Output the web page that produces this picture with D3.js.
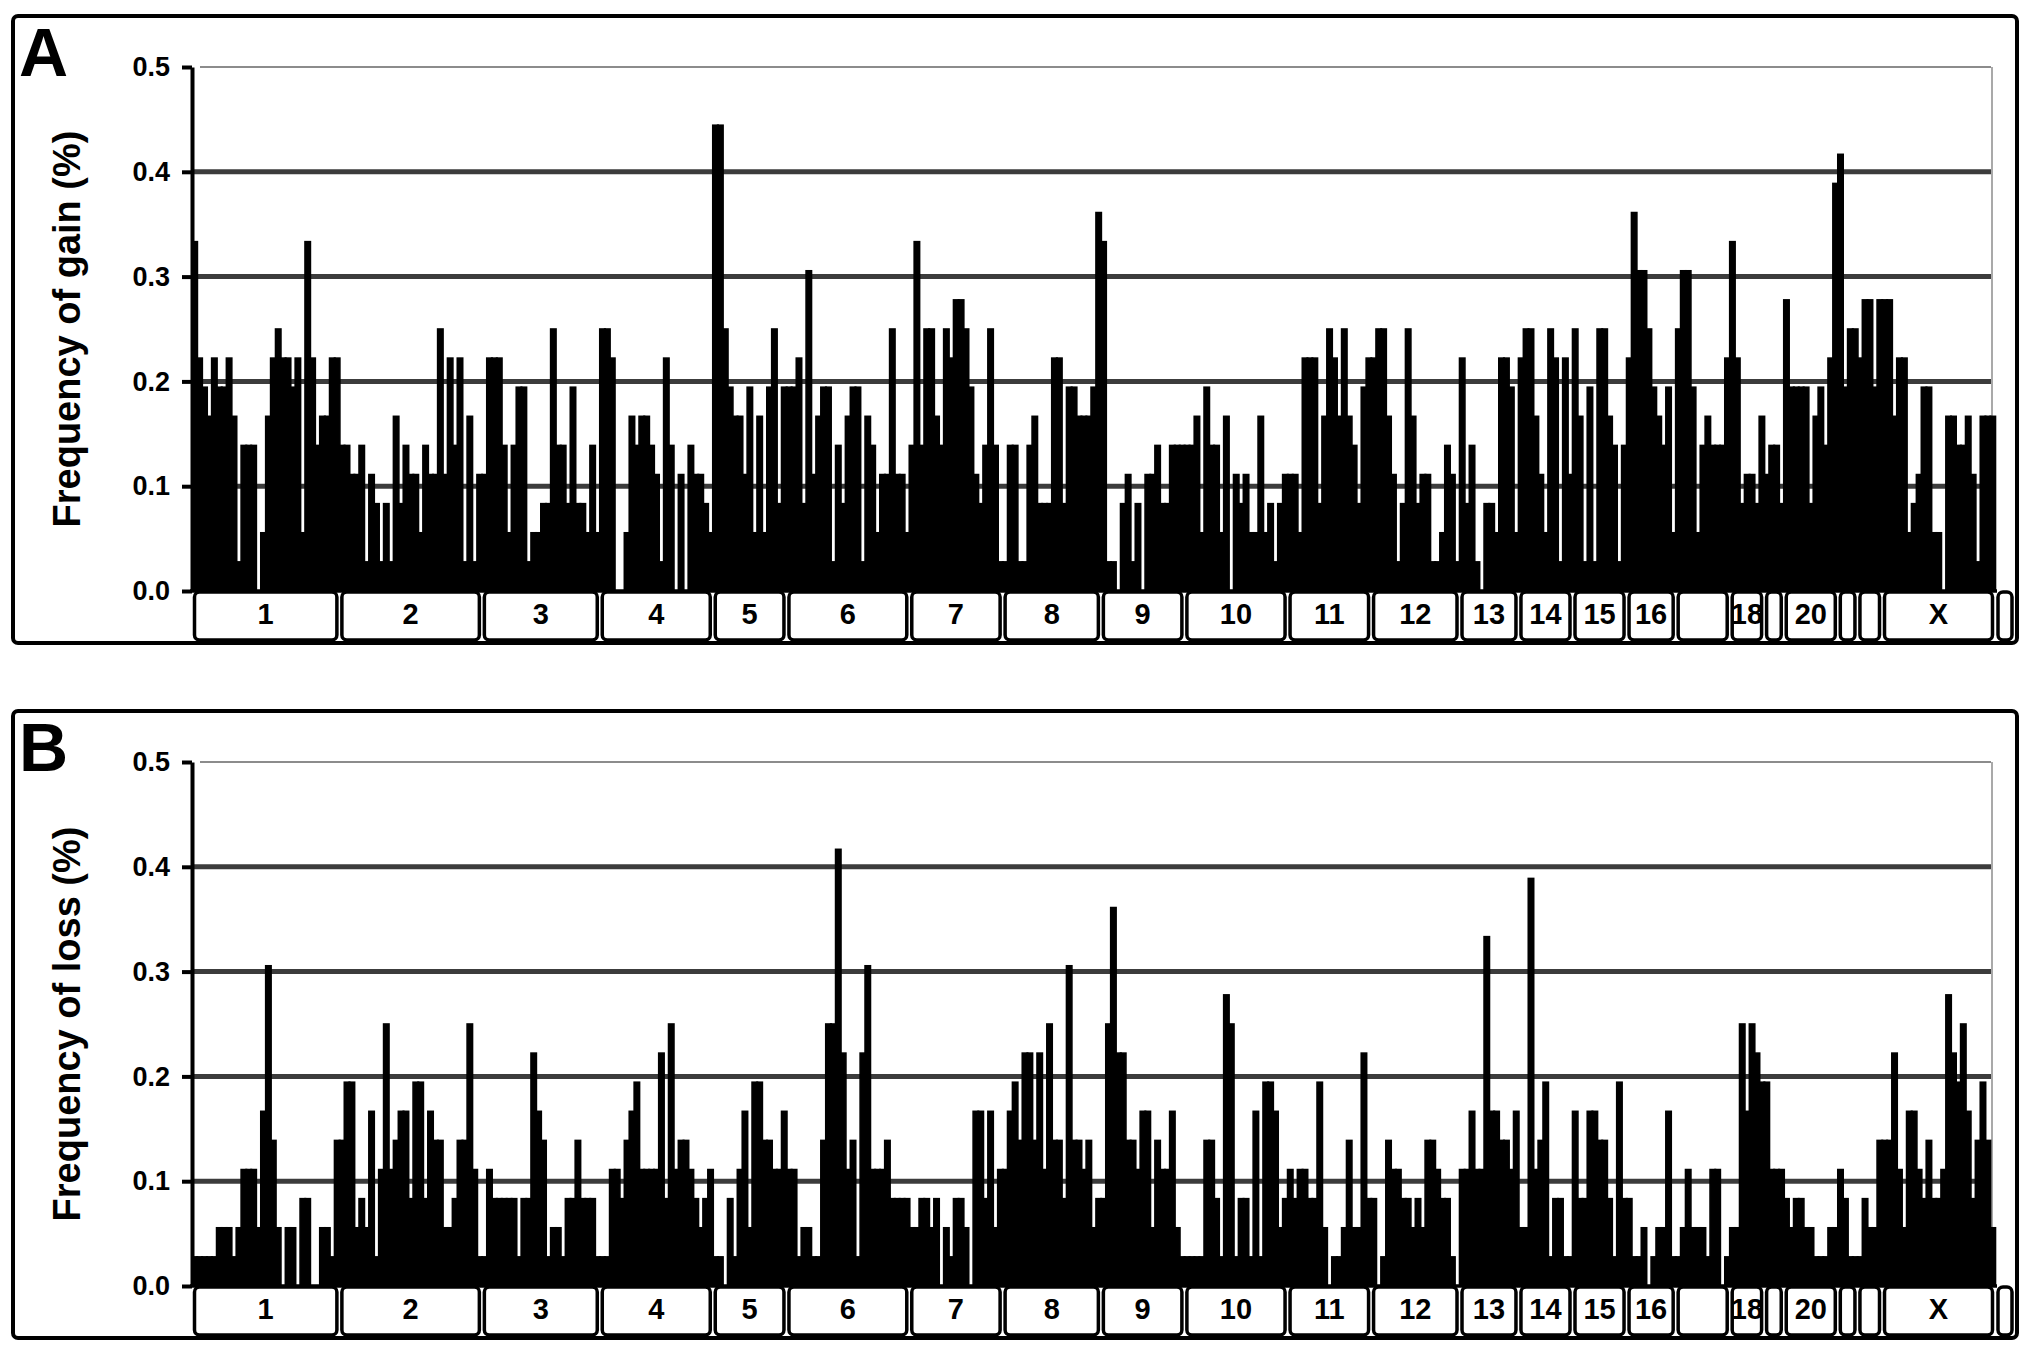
<!DOCTYPE html>
<html>
<head>
<meta charset="utf-8">
<script src="https://cdn.jsdelivr.net/npm/d3@7"></script>
<style>
  body { margin: 0; background: #fff; }
  svg text { font-family: "Liberation Sans", Arial, sans-serif; font-weight: bold; fill: #000; }
</style>
</head>
<body>
<svg id="chart" width="2031" height="1357"></svg>
<script>
// number of samples; bar height = count / samples
const samples = 36;

const chromosomes = ["1","2","3","4","5","6","7","8","9","10","11","12","13","14","15","16","17","18","19","20","21","22","X"];
// labels printed in the boxes (17, 19, 21, 22 are left blank in the figure)
const chromLabels = ["1","2","3","4","5","6","7","8","9","10","11","12","13","14","15","16","","18","","20","","","X"];
// number of bins per chromosome
const binsPerChrom = [30,29,24,23,15,25,19,20,17,21,17,18,12,11,11,10,11,7,4,11,4,5,23];

// samples with gain in each bin
const gainCounts = [
  12,8,7,6,8,7,7,8,6,1,5,5,5,0,2,6,8,9,8,8,7,8,2,12,8,5,6,6,8,8, // 1
  5,5,4,4,5,1,4,3,1,3,1,6,3,5,4,4,2,5,4,4,9,4,8,5,8,1,6,1,4,      // 2
  4,8,8,8,5,2,5,7,7,1,2,2,3,3,9,5,5,3,7,3,3,2,5,2,                // 3
  9,9,8,0,0,2,6,5,6,6,5,4,1,8,5,0,4,0,5,4,4,3,2,                  // 4
  16,16,9,7,6,6,4,7,2,6,2,7,9,3,7,                                // 5
  7,7,8,3,11,4,6,7,7,1,5,3,6,7,7,1,6,5,2,4,4,9,4,4,2,             // 6
  5,12,5,9,9,6,5,9,8,10,10,9,7,4,3,5,9,5,1,                       // 7
  1,5,5,1,1,5,6,3,3,3,8,8,3,7,7,6,6,6,7,13,                       // 8
  12,1,1,0,3,4,1,3,0,4,4,5,3,3,5,5,5,                             // 9
  5,5,6,2,7,5,5,2,6,0,4,3,4,2,2,6,2,3,1,3,4,                      // 10
  4,4,2,8,8,8,3,6,9,8,6,9,6,5,3,7,8,                              // 11
  8,9,9,6,4,1,3,9,6,3,4,4,1,1,2,5,4,1,                            // 12
  8,3,5,1,0,3,3,2,8,8,7,2,                                        // 13
  8,9,9,6,4,2,9,8,1,8,4,                                          // 14
  9,6,1,7,1,9,9,6,5,1,5,                                          // 15
  8,13,11,11,9,7,6,5,7,2,                                         // 16
  9,11,11,7,2,5,6,5,5,5,8,                                        // 17
  12,8,3,4,4,3,6,                                                 // 18
  4,5,5,3,                                                        // 19
  10,7,7,7,7,3,6,7,5,8,14,                                        // 20
  15,7,9,9,                                                       // 21
  8,10,10,7,10,                                                   // 22
  10,10,6,8,8,2,3,4,7,7,2,2,0,6,6,5,5,6,4,1,6,6,6                 // X
];

// samples with loss in each bin
const lossCounts = [
  1,1,1,1,1,2,2,2,1,2,4,4,4,2,6,11,5,2,0,2,2,0,3,3,0,0,2,2,1,5,   // 1
  5,7,7,2,3,2,6,1,4,9,4,5,6,6,3,7,7,3,6,5,5,2,2,3,5,5,9,4,1,      // 2
  1,4,3,3,3,3,3,1,3,3,8,6,5,1,2,2,1,3,3,5,3,3,3,1,                // 3
  1,1,4,4,3,5,6,7,4,4,4,4,8,3,9,4,5,5,4,3,2,3,4,                  // 4
  1,1,0,3,1,4,6,2,7,7,5,5,4,4,6,                                  // 5
  4,4,1,2,2,1,1,5,9,9,15,8,4,5,1,8,11,4,4,4,5,3,3,3,3,            // 6
  2,2,3,3,2,3,0,2,1,3,3,2,0,6,6,3,6,2,4,                          // 7
  4,6,7,5,8,8,5,8,4,9,5,5,3,11,5,5,4,5,2,3,                       // 8
  3,9,13,8,8,5,5,4,6,6,2,5,4,4,6,2,1,                             // 9
  1,1,1,1,5,5,3,1,10,9,1,3,3,1,6,1,7,7,6,2,3,                     // 10
  4,3,4,4,3,3,7,2,0,1,1,2,5,2,2,8,3,                              // 11
  3,0,1,5,4,4,3,3,2,3,2,5,5,4,3,3,1,0,                            // 12
  4,4,6,4,4,12,6,6,5,5,4,6,                                       // 13
  2,2,14,4,5,7,1,3,3,1,1,                                         // 14
  6,3,3,6,6,5,5,3,1,7,3,                                          // 15
  3,1,1,2,0,1,2,2,6,1,                                            // 16
  1,2,4,2,2,2,1,4,4,0,1,                                          // 17
  2,2,9,6,9,8,7,                                                  // 18
  7,4,4,4,                                                        // 19
  3,2,3,3,2,2,1,1,1,2,2,                                          // 20
  4,3,1,1,                                                        // 21
  1,3,2,2,5,                                                      // 22
  5,5,8,4,2,6,6,4,3,5,3,3,4,10,8,7,9,6,3,5,7,5,2                  // X
];

const yTicks = [0, 0.1, 0.2, 0.3, 0.4, 0.5];

const panels = [
  { letter: "A", title: "Frequency of gain (%)", counts: gainCounts, top: 16 },
  { letter: "B", title: "Frequency of loss (%)", counts: lossCounts, top: 711 },
];

const svg = d3.select("#chart");

const nBins = d3.sum(binsPerChrom);
if (gainCounts.length !== nBins || lossCounts.length !== nBins) {
  console.warn("bin count mismatch", nBins, gainCounts.length, lossCounts.length);
}

// chromosome start index in the bin list
const chromStart = [];
binsPerChrom.reduce((acc, n) => { chromStart.push(acc); return acc + n; }, 0);

const frameLeft = 13;
const frameRight = 2017;
const frameHeight = 627;
const plotLeft = 192;
const plotRight = 1995;

const x = d3.scaleBand()
  .domain(d3.range(nBins))
  .range([plotLeft, plotRight])
  .padding(0);

function drawPanel(p) {
  const g = svg.append("g");
  const yTop = p.top + 51;
  const yBottom = p.top + 575;
  const frameBottom = p.top + frameHeight;

  const y = d3.scaleLinear().domain([0, 0.5]).range([yBottom, yTop]);

  // gridlines (behind bars)
  g.selectAll("line.grid")
    .data(yTicks.filter((d) => d > 0))
    .enter()
    .append("line")
    .attr("class", "grid")
    .attr("x1", (d) => (d === 0.5 ? plotLeft + 8 : plotLeft))
    .attr("x2", plotRight - 4)
    .attr("y1", (d) => y(d))
    .attr("y2", (d) => y(d))
    .attr("stroke", (d) => (d === 0.5 ? "#8c8c8c" : "#3c3c3c"))
    .attr("stroke-width", (d) => (d === 0.5 ? 2 : 5));

  // thin right border of the plot area
  g.append("line")
    .attr("x1", plotRight - 3).attr("x2", plotRight - 3)
    .attr("y1", y(0.5)).attr("y2", y(0))
    .attr("stroke", "#8c8c8c")
    .attr("stroke-width", 1.5);

  // bars
  g.selectAll("rect.bar")
    .data(p.counts)
    .enter()
    .append("rect")
    .attr("class", "bar")
    .attr("x", (d, i) => x(i))
    .attr("width", x.bandwidth() + 0.5)
    .attr("y", (d) => y(d / samples))
    .attr("height", (d) => y(0) - y(d / samples))
    .attr("fill", "#000")
    .attr("stroke", "#000")
    .attr("stroke-width", (d) => (d > 0 ? 1.6 : 0));

  // y axis
  const axis = g.append("g")
    .attr("transform", `translate(${plotLeft},0)`)
    .call(
      d3.axisLeft(y)
        .tickValues(yTicks)
        .tickFormat(d3.format(".1f"))
        .tickSize(10)
        .tickSizeOuter(0)
        .tickPadding(12)
    );
  axis.attr("font-family", null);
  axis.select(".domain").attr("stroke", "#000").attr("stroke-width", 4);
  axis.selectAll(".tick line").attr("stroke", "#000").attr("stroke-width", 4);
  axis.selectAll(".tick text")
    .attr("font-size", 27)
    .attr("fill", "#000");

  // chromosome boxes
  const boxTop = yBottom + 1;
  const boxBottom = frameBottom - 3;
  const boxes = g.selectAll("g.chrom")
    .data(chromosomes.map((c, i) => ({
      name: c,
      label: chromLabels[i],
      x0: x(chromStart[i]),
      x1: x(chromStart[i] + binsPerChrom[i] - 1) + x.bandwidth(),
    })))
    .enter()
    .append("g")
    .attr("class", "chrom");

  boxes.append("rect")
    .attr("x", (d) => d.x0 + 2.5)
    .attr("y", boxTop)
    .attr("width", (d) => d.x1 - d.x0 - 5)
    .attr("height", boxBottom - boxTop)
    .attr("rx", 5)
    .attr("fill", "#fff")
    .attr("stroke", "#000")
    .attr("stroke-width", 3.5);

  boxes.append("text")
    .attr("x", (d) => (d.x0 + d.x1) / 2)
    .attr("y", yBottom + 33)
    .attr("text-anchor", "middle")
    .attr("font-size", 29)
    .text((d) => d.label);

  // trailing empty box after X
  g.append("rect")
    .attr("x", plotRight + 3)
    .attr("y", boxTop)
    .attr("width", frameRight - plotRight - 8)
    .attr("height", boxBottom - boxTop)
    .attr("rx", 5)
    .attr("fill", "#fff")
    .attr("stroke", "#000")
    .attr("stroke-width", 3.5);

  // x baseline over box tops
  g.append("line")
    .attr("x1", plotLeft - 2).attr("x2", plotRight + 2)
    .attr("y1", y(0)).attr("y2", y(0))
    .attr("stroke", "#000")
    .attr("stroke-width", 3.5);

  // y title
  g.append("text")
    .attr("transform", `translate(80,${(yTop + yBottom) / 2}) rotate(-90)`)
    .attr("text-anchor", "middle")
    .attr("font-size", 38)
    .text(p.title);

  // panel letter
  g.append("text")
    .attr("x", 19)
    .attr("y", p.top + 60)
    .attr("font-size", 68)
    .text(p.letter);

  // frame
  g.append("rect")
    .attr("x", frameLeft)
    .attr("y", p.top)
    .attr("width", frameRight - frameLeft)
    .attr("height", frameHeight)
    .attr("rx", 5)
    .attr("fill", "none")
    .attr("stroke", "#000")
    .attr("stroke-width", 4);
}

panels.forEach(drawPanel);
</script>
</body>
</html>
